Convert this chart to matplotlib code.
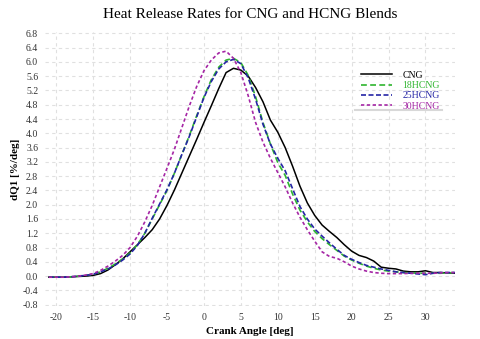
import matplotlib
matplotlib.use("Agg")
import matplotlib.pyplot as plt
from matplotlib.ticker import MultipleLocator, FormatStrFormatter

plt.rcParams['font.family'] = ['Liberation Serif', 'DejaVu Serif']
plt.rcParams['axes.unicode_minus'] = False

# crank angle [deg]
crank_angle = list(range(-21, 35))

# heat release rate dQ1 [%/deg]
cng = [-0.03, -0.03, -0.03, -0.02, -0.01, 0.0, 0.02, 0.07, 0.17, 0.32, 0.48,
       0.68, 0.88, 1.08, 1.30, 1.60, 1.98, 2.41, 2.88, 3.35, 3.82, 4.30, 4.77,
       5.25, 5.70, 5.82, 5.77, 5.60, 5.28, 4.88, 4.37, 4.03, 3.60, 3.08, 2.52,
       2.05, 1.70, 1.43, 1.25, 1.08, 0.88, 0.70, 0.58, 0.52, 0.42, 0.25, 0.22,
       0.20, 0.14, 0.12, 0.12, 0.15, 0.10, 0.10, 0.09, 0.08]
hcng18 = [-0.03, -0.03, -0.03, -0.02, 0.0, 0.02, 0.05, 0.12, 0.22, 0.34, 0.48,
          0.65, 0.88, 1.20, 1.60, 2.00, 2.40, 2.88, 3.40, 3.92, 4.48, 5.02, 5.50,
          5.85, 6.05, 6.10, 5.98, 5.62, 5.02, 4.30, 3.70, 3.18, 2.82, 2.30, 1.85,
          1.52, 1.25, 1.05, 0.88, 0.72, 0.56, 0.45, 0.36, 0.28, 0.22, 0.17, 0.14,
          0.12, 0.10, 0.09, 0.08, 0.08, 0.08, 0.08, 0.09, 0.10]
hcng25 = [-0.03, -0.03, -0.03, -0.02, 0.0, 0.02, 0.05, 0.12, 0.20, 0.31, 0.45,
          0.62, 0.86, 1.20, 1.62, 2.02, 2.42, 2.88, 3.40, 3.90, 4.45, 5.00, 5.45,
          5.80, 6.00, 6.07, 5.95, 5.55, 4.95, 4.25, 3.70, 3.30, 2.95, 2.45, 1.95,
          1.60, 1.32, 1.12, 0.93, 0.75, 0.58, 0.47, 0.38, 0.30, 0.25, 0.20, 0.16,
          0.12, 0.10, 0.08, 0.06, 0.04, 0.08, 0.10, 0.10, 0.10]
hcng30 = [-0.03, -0.03, -0.03, -0.02, 0.0, 0.03, 0.07, 0.16, 0.28, 0.42, 0.58,
          0.80, 1.12, 1.52, 1.98, 2.50, 3.02, 3.55, 4.15, 4.75, 5.30, 5.75, 6.05,
          6.25, 6.30, 6.10, 5.70, 5.05, 4.30, 3.75, 3.30, 2.90, 2.50, 2.05, 1.65,
          1.30, 0.98, 0.68, 0.55, 0.50, 0.40, 0.28, 0.20, 0.14, 0.10, 0.08, 0.07,
          0.07, 0.07, 0.08, 0.08, 0.08, 0.08, 0.09, 0.10, 0.10]

labels = ['CNG', '18HCNG', '25HCNG', '30HCNG']
colors = ['black', '#2fb52f', '#2525a5', '#a526a5']

fig = plt.figure(figsize=(4.8, 3.39), dpi=100)
ax = fig.add_axes([0.094, 0.096, 0.854, 0.811])

ax.plot(crank_angle, cng, color=colors[0], lw=1.1, label=labels[0])
ax.plot(crank_angle, hcng18, color=colors[1], lw=1.2, ls=(0, (3.5, 2)), label=labels[1])
ax.plot(crank_angle, hcng25, color=colors[2], lw=1.2, ls=(0, (3, 1.5)), label=labels[2])
ax.plot(crank_angle, hcng30, color=colors[3], lw=1.2, ls=(0, (2, 1.5)), label=labels[3])

ax.set_xlim(-21.5, 34)
ax.set_ylim(-0.85, 6.85)
ax.xaxis.set_major_locator(MultipleLocator(5))
ax.yaxis.set_major_locator(MultipleLocator(0.4))
ax.yaxis.set_major_formatter(FormatStrFormatter('%.1f'))
ax.tick_params(length=0, labelsize=7, colors='#333333', pad=5)

for s in ax.spines.values():
    s.set_visible(False)
ax.grid(True, color='#e0e0e0', ls=(0, (3, 3)), lw=0.8)

ax.set_title('Heat Release Rates for CNG and HCNG Blends', fontsize=11, pad=10)
ax.set_xlabel('Crank Angle [deg]', fontsize=8, fontweight='bold', labelpad=3)
ax.set_ylabel('dQ1 [%/deg]', fontsize=8, fontweight='bold', labelpad=2)

leg = ax.legend(loc='upper left', bbox_to_anchor=(0.75, 0.89), frameon=False,
                fontsize=7, handlelength=3.2, handletextpad=1.0,
                labelspacing=0.15)
for txt, c in zip(leg.get_texts(), colors):
    txt.set_color(c)
ax.plot([0.756, 0.968], [0.714, 0.714], transform=ax.transAxes,
        color='#d8d8d8', lw=1.5)

fig.savefig('out.png', dpi=100)
